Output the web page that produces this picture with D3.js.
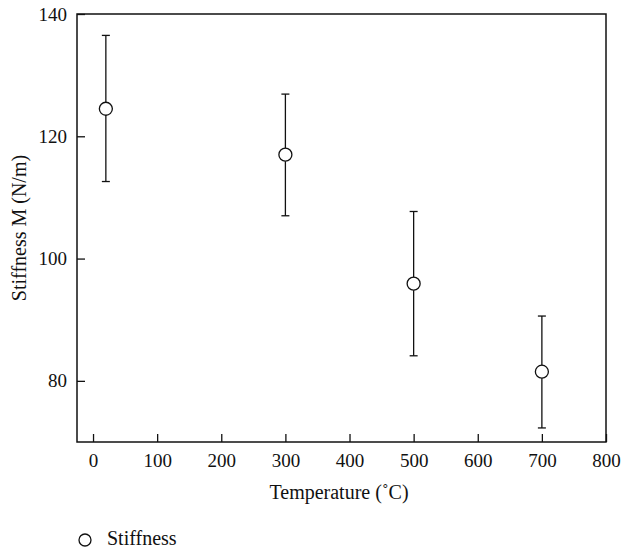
<!DOCTYPE html>
<html>
<head>
<meta charset="utf-8">
<script src="https://cdn.jsdelivr.net/npm/d3@7"></script>
<style>
  body { margin: 0; background: #fff; }
</style>
</head>
<body>
<div id="chart"></div>
<script>
// data
const temperatures = [20, 300, 500, 700];
const stiffness = [124.5, 117.0, 95.9, 81.5];
const errLow = [112.6, 107.0, 84.1, 72.3];
const errHigh = [136.5, 126.9, 107.7, 90.6];
const xTicks = [0, 100, 200, 300, 400, 500, 600, 700, 800];
const yTicks = [80, 100, 120, 140];

const fontFam = "'Liberation Serif', 'Times New Roman', serif";
const W = 624, H = 552;
const margin = {top: 14, right: 18, bottom: 110, left: 77};
const width = 606 - margin.left, height = 442 - margin.top;

const svg = d3.select("#chart").append("svg")
    .attr("width", W).attr("height", H)
  .append("g")
    .attr("transform", "translate(" + margin.left + "," + margin.top + ")");

const xScale = d3.scaleLinear().domain([-25, 800]).range([0, width]);
const yScale = d3.scaleLinear().domain([70, 140]).range([height, 0]);

// frame
svg.append("rect")
    .attr("width", width).attr("height", height)
    .attr("fill", "none").attr("stroke", "#111").attr("stroke-width", 1.5);

// x axis, ticks pointing inward
const xAxis = svg.append("g").attr("transform", "translate(0," + height + ")");
xAxis.call(d3.axisBottom(xScale).tickValues(d3.range(50, 800, 100)).tickSize(-4).tickFormat(""));
xAxis.call(d3.axisBottom(xScale).tickValues(xTicks).tickSize(-8));
xAxis.select(".domain").remove();
xAxis.selectAll("line").attr("stroke", "#111").attr("stroke-width", 1.3);
xAxis.selectAll(".tick text").attr("y", 25).attr("dy", null);

// y axis
const yAxis = svg.append("g");
yAxis.call(d3.axisLeft(yScale).tickValues([90, 110, 130]).tickSize(-4).tickFormat(""));
yAxis.call(d3.axisLeft(yScale).tickValues(yTicks).tickSize(-8));
yAxis.select(".domain").remove();
yAxis.selectAll("line").attr("stroke", "#111").attr("stroke-width", 1.3);
yAxis.selectAll(".tick text").attr("x", -10);

svg.selectAll(".tick text")
    .style("font-family", fontFam).style("font-size", "19px").style("fill", "#111");

// error bars
const pts = temperatures.map((t, i) => ({t: t, v: stiffness[i], lo: errLow[i], hi: errHigh[i]}));
const bars = svg.append("g").selectAll("g").data(pts).enter().append("g")
    .attr("stroke", "#111").attr("stroke-width", 1.3);
bars.append("line")
    .attr("x1", d => xScale(d.t)).attr("x2", d => xScale(d.t))
    .attr("y1", d => yScale(d.lo)).attr("y2", d => yScale(d.hi));
bars.append("line")
    .attr("x1", d => xScale(d.t) - 4).attr("x2", d => xScale(d.t) + 4)
    .attr("y1", d => yScale(d.lo)).attr("y2", d => yScale(d.lo));
bars.append("line")
    .attr("x1", d => xScale(d.t) - 4).attr("x2", d => xScale(d.t) + 4)
    .attr("y1", d => yScale(d.hi)).attr("y2", d => yScale(d.hi));

// points
svg.append("g").selectAll("circle").data(pts).enter().append("circle")
    .attr("cx", d => xScale(d.t)).attr("cy", d => yScale(d.v))
    .attr("r", 6.5)
    .attr("fill", "#fff").attr("stroke", "#111").attr("stroke-width", 1.3);

// axis labels
svg.append("text")
    .attr("text-anchor", "middle")
    .attr("transform", "translate(" + (339 - margin.left) + "," + (499 - margin.top) + ")")
    .style("font-family", fontFam).style("font-size", "20px").style("fill", "#111")
    .text("Temperature (˚C)");

svg.append("text")
    .attr("text-anchor", "middle")
    .attr("transform", "translate(" + (26 - margin.left) + "," + (height / 2) + ") rotate(-90)")
    .style("font-family", fontFam).style("font-size", "20px").style("fill", "#111")
    .text("Stiffness M (N/m)");

// legend
const legend = svg.append("g").attr("transform", "translate(" + (85 - margin.left) + "," + (540 - margin.top) + ")");
legend.append("circle").attr("r", 6).attr("fill", "#fff").attr("stroke", "#111").attr("stroke-width", 1.3);
legend.append("text").attr("x", 22).attr("y", 5)
    .style("font-family", fontFam).style("font-size", "20px").style("fill", "#111")
    .text("Stiffness");
</script>
</body>
</html>
